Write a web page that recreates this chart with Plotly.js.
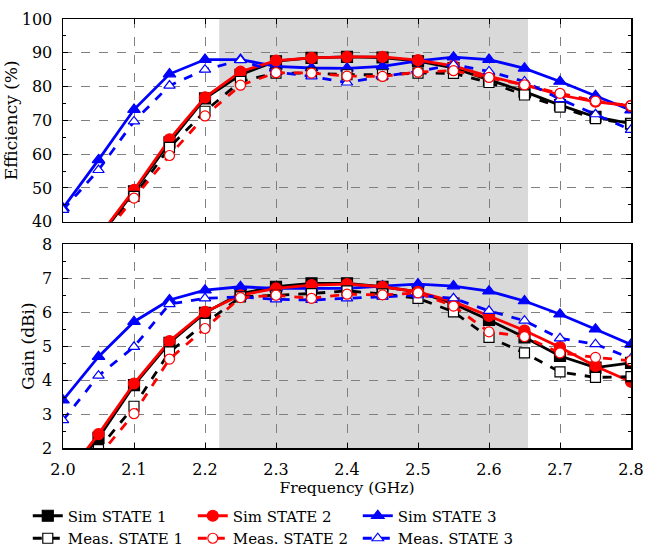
<!DOCTYPE html>
<html>
<head>
<meta charset="utf-8">
<script src="https://cdn.plot.ly/plotly-3.0.1.min.js"></script>
<style>
html,body{margin:0;padding:0;background:#fff;}
#chart{width:645px;height:548px;}
</style>
</head>
<body>
<div id="chart"></div>
<script>
// Frequency points (GHz)
var freq = [2.00, 2.05, 2.10, 2.15, 2.20, 2.25, 2.30, 2.35, 2.40, 2.45, 2.50, 2.55, 2.60, 2.65, 2.70, 2.75, 2.80];

// Efficiency (%)
var effSim1  = [22.0, 35.0, 49.0, 63.5, 76.5, 83.5, 87.5, 88.5, 88.8, 88.6, 87.5, 85.5, 82.0, 78.5, 74.5, 71.0, 69.0];
var effSim2  = [22.0, 35.5, 49.4, 64.4, 76.8, 84.4, 87.7, 88.5, 88.8, 88.8, 87.8, 86.1, 83.0, 80.5, 77.5, 75.5, 74.3];
var effSim3  = [44.0, 58.3, 73.2, 83.7, 88.0, 88.0, 86.0, 85.5, 85.4, 86.0, 87.6, 88.7, 88.0, 85.4, 81.5, 77.3, 73.0];
var effMeas1 = [21.0, 34.5, 47.5, 62.0, 72.7, 81.5, 84.0, 84.0, 83.5, 83.5, 84.0, 83.9, 81.2, 77.5, 73.9, 70.5, 69.0];
var effMeas2 = [21.0, 34.0, 47.0, 59.6, 71.3, 80.4, 84.1, 84.0, 83.1, 83.0, 84.3, 84.7, 82.7, 80.5, 78.0, 75.7, 74.3];
var effMeas3 = [43.5, 55.3, 69.7, 80.3, 85.0, 87.8, 84.3, 83.0, 81.2, 83.0, 84.5, 86.5, 84.5, 81.5, 76.3, 71.8, 67.2];

// Gain (dBi)
var gainSim1  = [1.00, 2.30, 3.85, 5.10, 5.98, 6.55, 6.75, 6.85, 6.85, 6.75, 6.60, 6.25, 5.77, 5.26, 4.71, 4.37, 4.51];
var gainSim2  = [1.05, 2.41, 3.90, 5.15, 6.01, 6.50, 6.70, 6.80, 6.83, 6.75, 6.60, 6.31, 5.89, 5.46, 4.97, 4.41, 3.95];
var gainSim3  = [3.41, 4.69, 5.72, 6.36, 6.65, 6.75, 6.70, 6.70, 6.70, 6.77, 6.83, 6.77, 6.62, 6.33, 5.94, 5.50, 5.05];
var gainMeas1 = [0.70, 1.95, 3.23, 4.83, 5.67, 6.45, 6.50, 6.55, 6.63, 6.54, 6.41, 6.01, 5.26, 4.80, 4.24, 4.08, 4.10];
var gainMeas2 = [0.50, 1.75, 3.01, 4.62, 5.52, 6.43, 6.50, 6.41, 6.53, 6.51, 6.57, 6.18, 5.42, 5.28, 4.80, 4.67, 4.57];
var gainMeas3 = [2.82, 4.13, 4.98, 6.24, 6.41, 6.45, 6.38, 6.36, 6.41, 6.46, 6.50, 6.41, 6.04, 5.75, 5.23, 5.06, 4.64];

// Shaded band (GHz)
var band = [2.22, 2.655];

var names = ['Sim STATE 1', 'Sim STATE 2', 'Sim STATE 3', 'Meas. STATE 1', 'Meas. STATE 2', 'Meas. STATE 3'];
var colors = ['#000000', '#ff0000', '#0000ff'];
var symbols = ['square', 'circle', 'triangle-up'];

var effSets = [effSim1, effSim2, effSim3, effMeas1, effMeas2, effMeas3];
var gainSets = [gainSim1, gainSim2, gainSim3, gainMeas1, gainMeas2, gainMeas3];

// drawing order: sims (black, blue, red) then meas (black, blue, red)
var order = [0, 2, 1, 3, 5, 4];
var traces = [];
[['y', effSets, true], ['y2', gainSets, false]].forEach(function (cfg) {
  order.forEach(function (i) {
    var st = i % 3, meas = i >= 3;
    traces.push({
      x: freq, y: cfg[1][i], xaxis: cfg[0] === 'y' ? 'x' : 'x2', yaxis: cfg[0],
      type: 'scatter', mode: 'lines+markers', name: names[i],
      legendgroup: names[i], showlegend: cfg[2], legendrank: i + 1,
      line: {color: colors[st], width: 2.8, dash: meas ? 'dash' : 'solid'},
      marker: {symbol: symbols[st], size: meas ? 10 : 11,
               color: meas ? '#ffffff' : colors[st],
               line: {color: colors[st], width: 1.2}},
      cliponaxis: true
    });
  });
});

var FAM = 'DejaVu Serif';
var tickFont = {family: FAM, size: 16, color: '#000'};
var axisCommon = {
  showline: true, linecolor: '#000', linewidth: 1.5, mirror: 'ticks',
  ticks: 'inside', ticklen: 5, tickcolor: '#000', tickwidth: 1,
  showgrid: true, gridcolor: '#808080', griddash: 'dash', gridwidth: 1,
  zeroline: false, tickfont: tickFont, automargin: false, ticklabelstandoff: 6
};
function ax(extra) { var o = JSON.parse(JSON.stringify(axisCommon)); for (var k in extra) o[k] = extra[k]; return o; }

var layout = {
  width: 645, height: 548,
  margin: {l: 63, r: 14, t: 19, b: 100, autoexpand: false},
  paper_bgcolor: '#fff', plot_bgcolor: 'rgba(0,0,0,0)',
  font: {family: FAM, size: 16, color: '#000'}, showlegend: true,
  xaxis: ax({range: [2.0, 2.8], dtick: 0.1, tick0: 2.0, showticklabels: false, anchor: 'y', domain: [0, 1]}),
  yaxis: ax({range: [40, 100], dtick: 10, domain: [0.5275, 1], anchor: 'x',
             minor: {ticks: 'inside', dtick: 5, ticklen: 3, tickcolor: '#000', showgrid: false},
             title: {text: 'Efficiency (%)', font: {family: FAM, size: 17}, standoff: 0}}),
  xaxis2: ax({range: [2.0, 2.8], dtick: 0.1, tick0: 2.0, tickformat: '.1f', anchor: 'y2', domain: [0, 1],
              title: {text: 'Frequency (GHz)', font: {family: FAM, size: 15.5}, standoff: 3}}),
  yaxis2: ax({range: [2, 8], dtick: 1, domain: [0, 0.4748], anchor: 'x2',
              minor: {ticks: 'inside', dtick: 0.5, ticklen: 3, tickcolor: '#000', showgrid: false},
              title: {text: 'Gain (dBi)', font: {family: FAM, size: 17}, standoff: 3}}),
  shapes: [
    {type: 'rect', xref: 'x', yref: 'y domain', x0: band[0], x1: band[1], y0: 0, y1: 1,
     fillcolor: '#d9d9d9', line: {width: 0}, layer: 'below'},
    {type: 'rect', xref: 'x2', yref: 'y2 domain', x0: band[0], x1: band[1], y0: 0, y1: 1,
     fillcolor: '#d9d9d9', line: {width: 0}, layer: 'below'}
  ],
  legend: {orientation: 'h', x: -0.062, xanchor: 'left', y: -0.12, yanchor: 'top',
           entrywidth: 120, entrywidthmode: 'pixels', traceorder: 'normal',
           font: {family: FAM, size: 15}, itemwidth: 30, tracegroupgap: 0,
           bgcolor: 'rgba(0,0,0,0)'}
};

Plotly.newPlot('chart', traces, layout, {staticPlot: true, displayModeBar: false});
</script>
</body>
</html>
